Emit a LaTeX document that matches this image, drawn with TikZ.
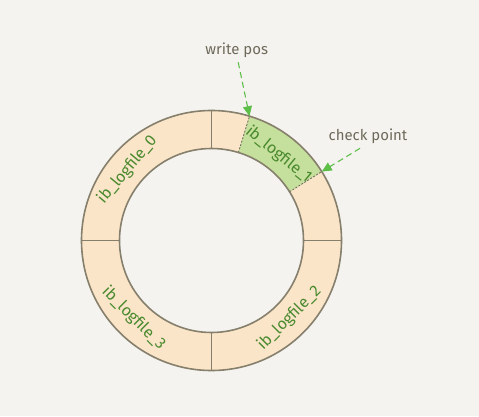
\documentclass[tikz,border=0pt]{standalone}
\usepackage{fontspec}
\setmainfont{Fira Sans}
\usetikzlibrary{arrows.meta,calc}
\definecolor{bg}{HTML}{F4F3EF}
\definecolor{ringfill}{HTML}{FAE5C9}
\definecolor{greenfill}{HTML}{C5DF9C}
\definecolor{edge}{HTML}{857F6C}
\definecolor{labgreen}{HTML}{4A8A2E}
\definecolor{arrowgreen}{HTML}{5DBE48}
\definecolor{note}{HTML}{6E6A5B}
\tikzset{
  seglabel/.style={text=labgreen, font=\fontsize{16}{18}\selectfont, inner sep=0pt},
  notelabel/.style={text=note, font=\fontsize{15}{17}\selectfont, inner sep=0pt},
  pointer/.style={draw=arrowgreen, line width=1.1pt, dash pattern=on 6pt off 4pt, -{Triangle[length=10pt,width=9pt]}},
  divider/.style={draw=edge, line width=1.1pt},
  posline/.style={draw=edge!80!black, line width=0.8pt, dash pattern=on 2pt off 1.5pt},
}
\begin{document}
\begin{tikzpicture}[x=1bp,y=1bp]
\useasboundingbox[fill=bg] (0,0) rectangle (479,416);
\coordinate (c) at (211.5,175.5);
% ring
\fill[ringfill, even odd rule] (c) circle[radius=130bp] (c) circle[radius=92bp];
% green sector
\fill[greenfill] ($(c)+(32:130bp)$) arc[start angle=32, end angle=73, radius=130bp]
  -- ($(c)+(73:92bp)$) arc[start angle=73, end angle=32, radius=92bp] -- cycle;
% dividers
\foreach \a in {0,90,180,270} {
  \draw[divider] ($(c)+(\a:92bp)$) -- ($(c)+(\a:130bp)$);
}
\draw[posline] ($(c)+(32:92bp)$) -- ($(c)+(32:130bp)$);
\draw[posline] ($(c)+(73:92bp)$) -- ($(c)+(73:130bp)$);
% circles
\draw[edge, line width=1.6pt] (c) circle[radius=130bp];
\draw[edge, line width=1.6pt] (c) circle[radius=92bp];
% labels
\node[seglabel, rotate=50] (l0) at ($(c)+(140:110bp)$) {ib\_logfile\_0};
\node[seglabel, rotate=-39] (l1) at ($(c)+(52:109bp)$) {ib\_logfile\_1};
\node[seglabel, rotate=45] (l2) at ($(c)+(-45:110bp)$) {ib\_logfile\_2};
\node[seglabel, rotate=-45] (l3) at ($(c)+(225:110bp)$) {ib\_logfile\_3};
% notes
\node[notelabel] (wp) at (236.7,365.3) {write pos};
\node[notelabel] (cp) at (368,279.3) {check point};
\coordinate (wpt) at ($(c)+(73:130bp)$);
\coordinate (cpt) at ($(c)+(32:130bp)$);
\draw[pointer] ($(wp.south)+(1.5,-4)$) -- (wpt);
\draw[pointer] ($(cp.south)+(-8,-4)$) -- (cpt);
\end{tikzpicture}
\end{document}
